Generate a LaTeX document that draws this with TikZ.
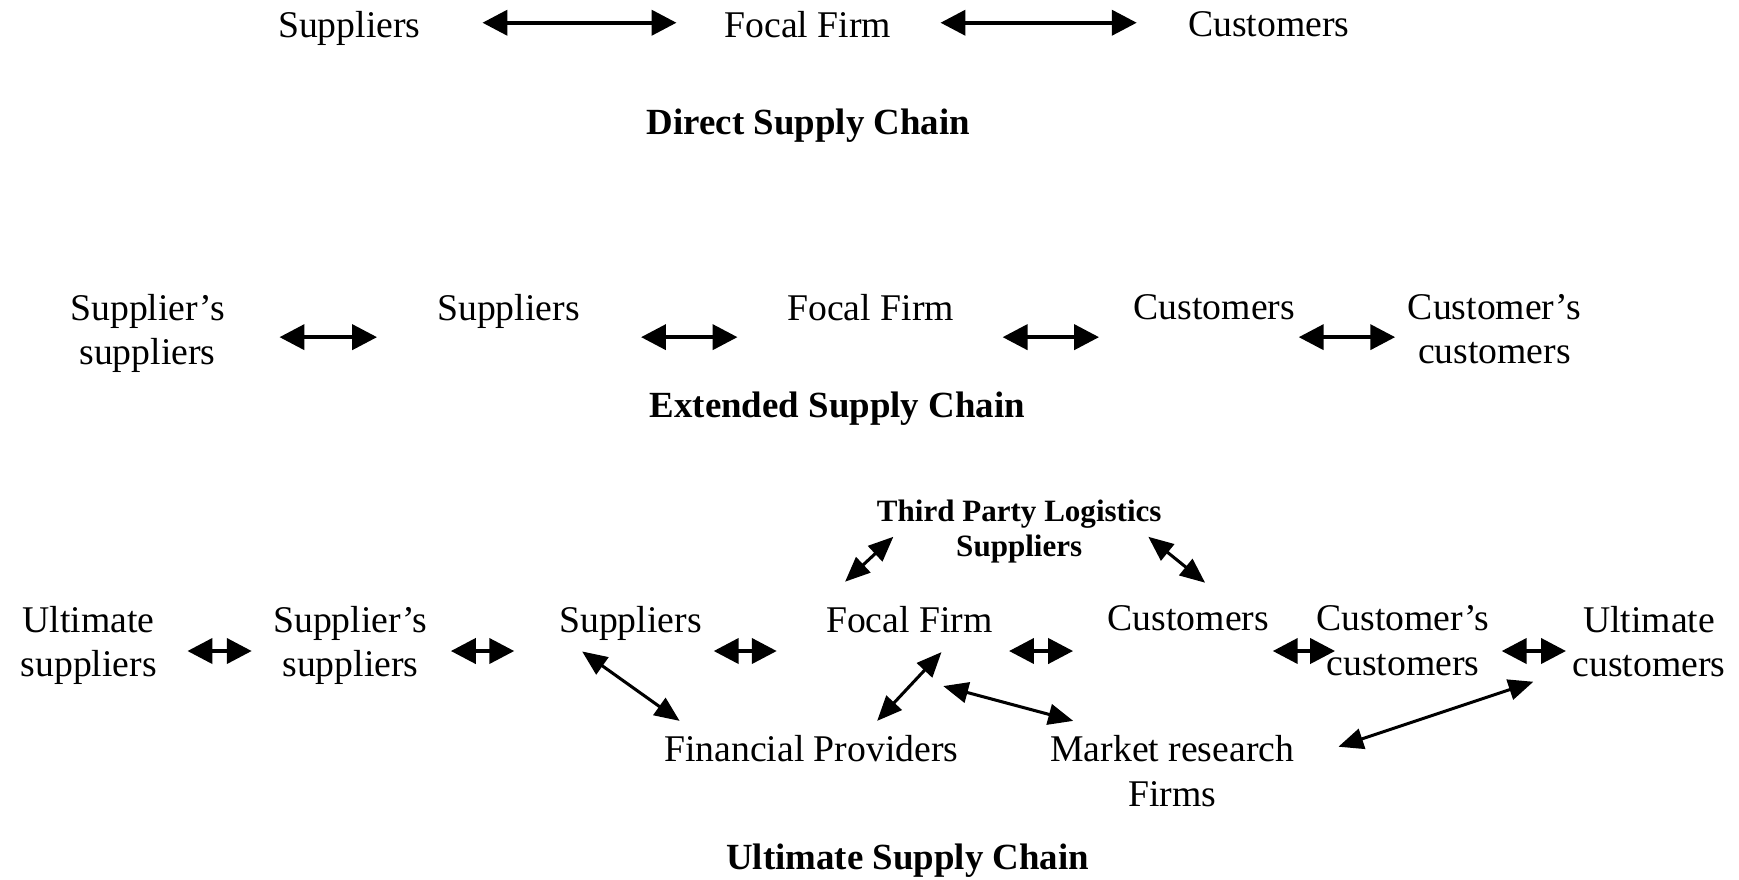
\documentclass[tikz,border=0pt]{standalone}
\usepackage{fontspec}
\setmainfont{Liberation Serif}
\usetikzlibrary{arrows.meta}
\begin{document}
\begin{tikzpicture}[x=0.4pt,y=-0.4pt,
  lbl/.style={anchor=north,inner sep=0pt,align=center,font=\fontsize{13.6}{16}\selectfont},
  ttl/.style={anchor=north,inner sep=0pt,font=\fontsize{13.3}{16}\selectfont\bfseries},
  minor/.style={anchor=north,inner sep=0pt,align=center,font=\fontsize{11.2}{12.8}\selectfont\bfseries},
  hlink/.style={{Triangle[length=9pt,width=9pt]}-{Triangle[length=9pt,width=9pt]},line width=1.5pt},
  dlink/.style={{Triangle[length=9pt,width=7.5pt]}-{Triangle[length=9pt,width=7.5pt]},line width=1.1pt}]
\useasboundingbox (0,0) rectangle (1568,793);
\node[lbl] (s1) at (315,9.8) {Suppliers};
\node[lbl] (f1) at (728.5,9.8) {Focal Firm};
\node[lbl] (c1) at (1144,9.8) {Customers};
\node[ttl] (t1) at (729,98) {Direct Supply Chain};
\draw[hlink] ([shift={(120,10.7)}]s1.north) -- ([shift={(-118.5,10.7)}]f1.north);
\draw[hlink] ([shift={(119.5,10.7)}]f1.north) -- ([shift={(-119,10.7)}]c1.north);

\node[lbl] (ss2) at (133,264.8) {Supplier’s\\suppliers};
\node[lbl] (s2) at (458.5,264.8) {Suppliers};
\node[lbl] (f2) at (785,264.8) {Focal Firm};
\node[lbl] (c2) at (1095,264.8) {Customers};
\node[lbl] (cc2) at (1347.5,264.8) {Customer’s\\customers};
\node[ttl] (t2) at (755,353) {Extended Supply Chain};
\foreach \a/\b/\p/\q in {ss2/s2/119/-118.5, s2/f2/119.5/-120, f2/c2/119/-104, c2/cc2/76/-89.5}
\draw[hlink] ([shift={(\p,39.2)}]\a.north) -- ([shift={(\q,39.2)}]\b.north);

\node[minor] (tpl) at (919,450.2) {Third Party Logistics\\Suppliers};
\node[lbl] (us3) at (80,545.8) {Ultimate\\suppliers};
\node[lbl] (ss3) at (316,545.8) {Supplier’s\\suppliers};
\node[lbl] (s3) at (568.5,545.8) {Suppliers};
\node[lbl] (f3) at (820,545.8) {Focal Firm};
\node[lbl] (c3) at (1071.5,545.8) {Customers};
\node[lbl] (cc3) at (1265,545.8) {Customer’s\\customers};
\node[lbl] (uc3) at (1487,545.8) {Ultimate\\customers};
\node[lbl] (fp) at (731.5,662.8) {Financial Providers};
\node[lbl] (mr) at (1057,662.8) {Market research\\Firms};
\node[ttl] (t3) at (818.4,760) {Ultimate Supply Chain};
\foreach \a/\b/\p/\q in {us3/ss3/89/-89, ss3/s3/90.5/-104.8, s3/f3/75/-119.6, f3/c3/89.8/-103.9, c3/cc3/76.1/-61.2, cc3/uc3/89/-75}
\draw[hlink] ([shift={(\p,41.2)}]\a.north) -- ([shift={(\q,41.2)}]\b.north);
\draw[dlink] ([shift={(-58,-21.3)}]f3.north) -- ([shift={(-113.5,33.8)}]tpl.north);
\draw[dlink] ([shift={(116.4,33.8)}]tpl.north) -- ([shift={(15.1,-20.4)}]c3.north);
\draw[dlink] ([shift={(-43.6,41.6)}]s3.north) -- ([shift={(-118.7,-12.8)}]fp.north);
\draw[dlink] ([shift={(28.9,42.2)}]f3.north) -- ([shift={(59.4,-12.8)}]fp.north);
\draw[dlink] ([shift={(30.5,72.8)}]f3.north) -- ([shift={(-89.3,-12.8)}]mr.north);
\draw[dlink] ([shift={(149.8,10.5)}]mr.north) -- ([shift={(-104.4,68.9)}]uc3.north);
\end{tikzpicture}
\end{document}
